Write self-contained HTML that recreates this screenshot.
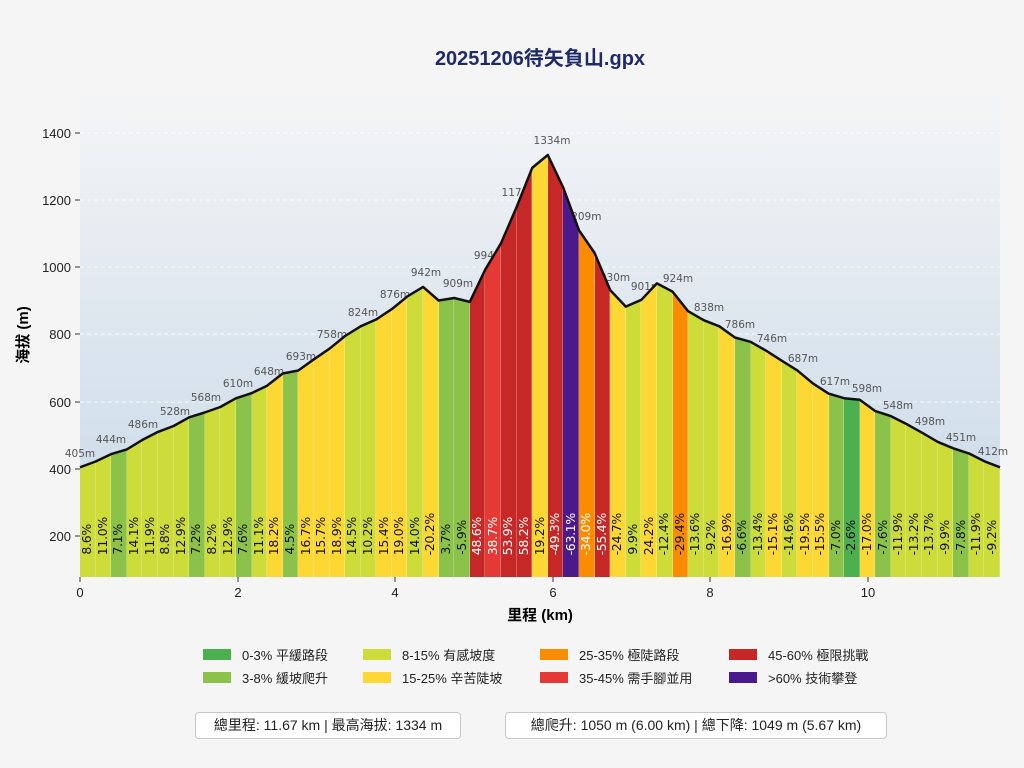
<!DOCTYPE html>
<html><head><meta charset="utf-8">
<style>
*{margin:0;padding:0;box-sizing:border-box}
body{width:1024px;height:768px;background:#f5f5f5;font-family:"Liberation Sans","Noto Sans CJK TC",sans-serif;position:relative;overflow:hidden;color:#222}
.abs{position:absolute}
#bg{left:80px;top:95px;width:920px;height:482px;background:linear-gradient(#f4f5f7,#dfe7ef 45%,#c6d8e8)}
#cols{left:80px;top:95px;width:920px;height:482px;display:flex}
#cols div{flex:1;position:relative;border-right:1px solid rgba(255,255,255,.25)}
#cols span{position:absolute;bottom:22px;left:50%;transform:translateX(-50%) rotate(180deg);writing-mode:vertical-rl;font-size:12.5px;line-height:12px;color:#111;white-space:nowrap;font-family:"DejaVu Sans",sans-serif;letter-spacing:-0.3px}
#cols .w span{color:#fff}
.a{background:#4caf50}.b{background:#8bc34a}.c{background:#cddc39}.d{background:#fdd835}.e{background:#fb8c00}.f{background:#e53935}.g{background:#c62828}.h{background:#4a1a8c}
.leg{font-size:13px;color:#222}
.leg i{position:absolute;width:28px;height:11px}
.box{position:absolute;top:712px;height:27px;background:#fff;border:1px solid #c8c8c8;border-radius:4px;font-size:14px;line-height:25px;text-align:center;color:#222;white-space:nowrap}
</style></head><body>
<div class="abs" style="left:0;width:1080px;top:42px;text-align:center;font-size:20px;font-weight:bold;color:#1f2a6b">20251206待矢負山.gpx</div>
<div id="bg" class="abs"></div>
<svg class="abs" style="left:0;top:0" width="1024" height="768">
<g stroke="#fff" stroke-width="1" stroke-dasharray="4,3" opacity=".8">
<line x1="80" x2="1000" y1="133" y2="133"/><line x1="80" x2="1000" y1="200" y2="200"/><line x1="80" x2="1000" y1="267" y2="267"/><line x1="80" x2="1000" y1="334" y2="334"/><line x1="80" x2="1000" y1="402" y2="402"/><line x1="80" x2="1000" y1="469" y2="469"/><line x1="80" x2="1000" y1="536" y2="536"/>
</g>
<g font-size="10.5" fill="#555" text-anchor="middle" font-family="DejaVu Sans,sans-serif">
<text x="80" y="457">405m</text><text x="111" y="443">444m</text><text x="143" y="428">486m</text><text x="175" y="415">528m</text><text x="206" y="401">568m</text><text x="238" y="387">610m</text><text x="269" y="375">648m</text><text x="301" y="360">693m</text><text x="332" y="338">758m</text><text x="363" y="316">824m</text><text x="395" y="298">876m</text><text x="426" y="276">942m</text><text x="458" y="287">909m</text><text x="489" y="259">994m</text><text x="520" y="196">1179m</text><text x="552" y="144">1334m</text><text x="583" y="220">1209m</text><text x="615" y="281">930m</text><text x="646" y="290">901m</text><text x="678" y="282">924m</text><text x="709" y="311">838m</text><text x="740" y="328">786m</text><text x="772" y="342">746m</text><text x="803" y="362">687m</text><text x="835" y="385">617m</text><text x="867" y="392">598m</text><text x="898" y="409">548m</text><text x="930" y="425">498m</text><text x="961" y="441">451m</text><text x="993" y="455">412m</text>
</g>
</svg>
<div id="cols" class="abs">
<div class="c"><span>8.6%</span></div><div class="c"><span>11.0%</span></div><div class="b"><span>7.1%</span></div><div class="c"><span>14.1%</span></div><div class="c"><span>11.9%</span></div><div class="c"><span>8.8%</span></div><div class="c"><span>12.9%</span></div><div class="b"><span>7.2%</span></div><div class="c"><span>8.2%</span></div><div class="c"><span>12.9%</span></div>
<div class="b"><span>7.6%</span></div><div class="c"><span>11.1%</span></div><div class="d"><span>18.2%</span></div><div class="b"><span>4.5%</span></div><div class="d"><span>16.7%</span></div><div class="d"><span>15.7%</span></div><div class="d"><span>18.9%</span></div><div class="c"><span>14.5%</span></div><div class="c"><span>10.2%</span></div><div class="d"><span>15.4%</span></div>
<div class="d"><span>19.0%</span></div><div class="c"><span>14.0%</span></div><div class="d"><span>-20.2%</span></div><div class="b"><span>3.7%</span></div><div class="b"><span>-5.9%</span></div><div class="g w"><span>48.6%</span></div><div class="f w"><span>38.7%</span></div><div class="g w"><span>53.9%</span></div><div class="g w"><span>58.2%</span></div><div class="d"><span>19.2%</span></div>
<div class="g w"><span>-49.3%</span></div><div class="h w"><span>-63.1%</span></div><div class="e w"><span>-34.0%</span></div><div class="g w"><span>-55.4%</span></div><div class="d"><span>-24.7%</span></div><div class="c"><span>9.9%</span></div><div class="d"><span>24.2%</span></div><div class="c"><span>-12.4%</span></div><div class="e"><span>-29.4%</span></div><div class="c"><span>-13.6%</span></div>
<div class="c"><span>-9.2%</span></div><div class="d"><span>-16.9%</span></div><div class="b"><span>-6.6%</span></div><div class="c"><span>-13.4%</span></div><div class="d"><span>-15.1%</span></div><div class="c"><span>-14.6%</span></div><div class="d"><span>-19.5%</span></div><div class="d"><span>-15.5%</span></div><div class="b"><span>-7.0%</span></div><div class="a"><span>-2.6%</span></div>
<div class="d"><span>-17.0%</span></div><div class="b"><span>-7.6%</span></div><div class="c"><span>-11.9%</span></div><div class="c"><span>-13.2%</span></div><div class="c"><span>-13.7%</span></div><div class="c"><span>-9.9%</span></div><div class="b"><span>-7.8%</span></div><div class="c"><span>-11.9%</span></div><div class="c"><span>-9.2%</span></div>
</div>
<svg class="abs" style="left:0;top:0" width="1024" height="768" font-family="Liberation Sans,sans-serif">
<polyline id="ln" fill="none" stroke="#111" stroke-width="2.5" stroke-linejoin="round"/>
<g stroke="#333" stroke-width="1">
<line x1="75" x2="80" y1="133" y2="133"/><line x1="75" x2="80" y1="200" y2="200"/><line x1="75" x2="80" y1="267" y2="267"/><line x1="75" x2="80" y1="334" y2="334"/><line x1="75" x2="80" y1="402" y2="402"/><line x1="75" x2="80" y1="469" y2="469"/><line x1="75" x2="80" y1="536" y2="536"/>
<line x1="80" x2="80" y1="577" y2="582"/><line x1="238" x2="238" y1="577" y2="582"/><line x1="395" x2="395" y1="577" y2="582"/><line x1="553" x2="553" y1="577" y2="582"/><line x1="710" x2="710" y1="577" y2="582"/><line x1="868" x2="868" y1="577" y2="582"/>
</g>
<g font-size="13" fill="#222" text-anchor="end">
<text x="71" y="138">1400</text><text x="71" y="205">1200</text><text x="71" y="272">1000</text><text x="71" y="339">800</text><text x="71" y="407">600</text><text x="71" y="474">400</text><text x="71" y="541">200</text>
</g>
<g font-size="13" fill="#222" text-anchor="middle">
<text x="80" y="597">0</text><text x="238" y="597">2</text><text x="395" y="597">4</text><text x="553" y="597">6</text><text x="710" y="597">8</text><text x="868" y="597">10</text>
</g>
<text x="540" y="620" font-size="15" font-weight="bold" text-anchor="middle" font-family="Liberation Sans,Noto Sans CJK TC,sans-serif">里程 (km)</text>
<text transform="translate(28,335) rotate(-90)" font-size="15" font-weight="bold" text-anchor="middle" font-family="Liberation Sans,Noto Sans CJK TC,sans-serif">海拔 (m)</text>
</svg>
<div class="leg">
<i class="a" style="left:203px;top:649px"></i><span class="abs" style="left:242px;top:645px">0-3% 平緩路段</span>
<i class="b" style="left:203px;top:672px"></i><span class="abs" style="left:242px;top:668px">3-8% 緩坡爬升</span>
<i class="c" style="left:363px;top:649px"></i><span class="abs" style="left:402px;top:645px">8-15% 有感坡度</span>
<i class="d" style="left:363px;top:672px"></i><span class="abs" style="left:402px;top:668px">15-25% 辛苦陡坡</span>
<i class="e" style="left:540px;top:649px"></i><span class="abs" style="left:579px;top:645px">25-35% 極陡路段</span>
<i class="f" style="left:540px;top:672px"></i><span class="abs" style="left:579px;top:668px">35-45% 需手腳並用</span>
<i class="g" style="left:729px;top:649px"></i><span class="abs" style="left:768px;top:645px">45-60% 極限挑戰</span>
<i class="h" style="left:729px;top:672px"></i><span class="abs" style="left:768px;top:668px">&gt;60% 技術攀登</span>
</div>
<div class="box" style="left:195px;width:266px">總里程: 11.67 km | 最高海拔: 1334 m</div>
<div class="box" style="left:505px;width:382px">總爬升: 1050 m (6.00 km) | 總下降: 1049 m (5.67 km)</div>
<script>
var sp=document.querySelectorAll('#cols span');var n=sp.length,w=920/n;
var e=405,pts=[[0,e]];
sp.forEach(function(s,i){e+=parseFloat(s.textContent)*2.0;pts.push([(i+1)*w,e]);});
var off=405-pts[pts.length-1][1];
pts=pts.map(function(p,i){return [p[0],p[1]+off*Math.max(0,(i-30))/(n-30)];});
function Y(v){return 133+(1400-v)*0.336;}
var poly=pts.map(function(p){return (80+p[0]).toFixed(1)+','+Y(p[1]).toFixed(1)}).join(' ');
document.getElementById('ln').setAttribute('points',poly);
var cp=pts.map(function(p){return p[0].toFixed(1)+'px '+(Y(p[1])-95).toFixed(1)+'px'});
cp.push('920px 482px','0px 482px');
document.getElementById('cols').style.clipPath='polygon('+cp.join(',')+')';
</script>
</body></html>
